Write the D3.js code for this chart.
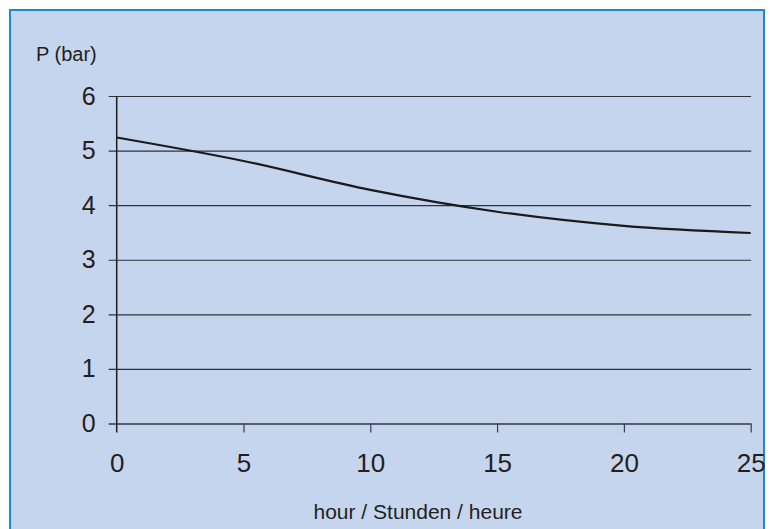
<!DOCTYPE html>
<html>
<head>
<meta charset="utf-8">
<script src="https://cdn.jsdelivr.net/npm/d3@7"></script>
<style>
  html, body { margin: 0; padding: 0; background: #fff; }
  svg { display: block; font-family: "Liberation Sans", Arial, Helvetica, sans-serif; }
</style>
</head>
<body>
<div id="chart"></div>
<script>
// data
const hours = [0, 5, 10, 15, 20, 25];
const pressure = [5.24, 4.81, 4.28, 3.88, 3.62, 3.49];
const xTicks = [0, 5, 10, 15, 20, 25];
const yTicks = [0, 1, 2, 3, 4, 5, 6];
const yTitle = "P (bar)";
const xTitle = "hour / Stunden / heure";

document.addEventListener("DOMContentLoaded", drawChart);

function drawChart() {
  const width = 777, height = 529;

  const svg = d3.select("#chart").append("svg")
    .attr("width", width)
    .attr("height", height);

  // blue panel with border (runs off the bottom edge)
  svg.append("rect")
    .attr("x", 10).attr("y", 10)
    .attr("width", 754).attr("height", 540)
    .attr("fill", "#c6d5ee")
    .attr("stroke", "#1f88d6")
    .attr("stroke-width", 2);

  const x = d3.scaleLinear().domain([0, 25]).range([116.7, 750.7]);
  const y = d3.scaleLinear().domain([0, 6]).range([423.5, 96]);

  // horizontal gridlines + y ticks
  const yAxis = svg.append("g")
    .attr("transform", "translate(" + x(0) + ",0)")
    .call(d3.axisLeft(y).tickValues(yTicks).tickFormat(d3.format("d")).tickSize(8).tickPadding(13));
  yAxis.select(".domain").remove();
  yAxis.selectAll(".tick line")
    .attr("x2", x(25) - x(0) + 0.5)
    .attr("x1", -8)
    .attr("stroke", d => d === 0 ? "#5b5f6b" : "#2e3038")
    .attr("stroke-width", d => d === 0 ? 2 : 1.2);
  yAxis.selectAll(".tick text")
    .attr("font-size", "25px")
    .attr("fill", "#231f20")
    .attr("font-family", "Liberation Sans, Arial, sans-serif");

  // vertical axis line
  svg.append("line")
    .attr("x1", x(0)).attr("x2", x(0))
    .attr("y1", y(6)).attr("y2", y(0) + 9)
    .attr("stroke", "#1c1c1c")
    .attr("stroke-width", 1.5);

  // x axis ticks and labels
  const xAxis = svg.append("g")
    .attr("transform", "translate(0," + y(0) + ")")
    .call(d3.axisBottom(x).tickValues(xTicks).tickSize(9).tickPadding(21));
  xAxis.select(".domain").remove();
  xAxis.selectAll(".tick line")
    .attr("stroke", d => d === 0 ? "none" : "#3a3c44")
    .attr("stroke-width", 1.2);
  xAxis.selectAll(".tick text")
    .attr("font-size", "26px")
    .attr("fill", "#231f20")
    .attr("font-family", "Liberation Sans, Arial, sans-serif");

  // pressure line, smoothed like the original
  const line = d3.line()
    .x((d, i) => x(hours[i]))
    .y(d => y(d))
    .curve(d3.curveCatmullRom.alpha(0.5));

  svg.append("path")
    .datum(pressure)
    .attr("d", line)
    .attr("fill", "none")
    .attr("stroke", "#1a1a1a")
    .attr("stroke-width", 2.2);

  // titles
  svg.append("text")
    .attr("x", 36).attr("y", 61)
    .attr("font-size", "20px")
    .attr("fill", "#231f20")
    .text(yTitle);

  svg.append("text")
    .attr("x", 418).attr("y", 519)
    .attr("text-anchor", "middle")
    .attr("font-size", "21px")
    .attr("fill", "#231f20")
    .text(xTitle);
}
</script>
</body>
</html>
